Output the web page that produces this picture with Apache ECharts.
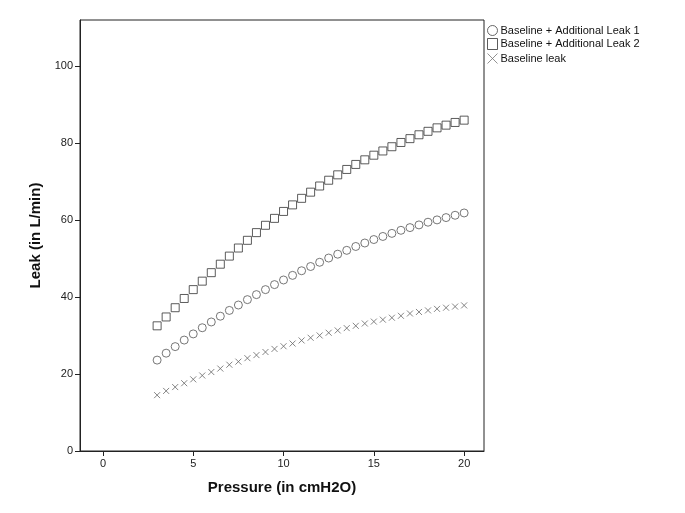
<!DOCTYPE html>
<html>
<head>
<meta charset="utf-8">
<script src="https://cdn.jsdelivr.net/npm/echarts@6/dist/echarts.min.js"></script>
<style>html,body{margin:0;padding:0;background:#fff}#c{width:685px;height:513px}</style>
</head>
<body>
<div id="c"></div>
<script>
var pressure = [3,3.5,4,4.5,5,5.5,6,6.5,7,7.5,8,8.5,9,9.5,10,10.5,11,11.5,12,12.5,13,13.5,14,14.5,15,15.5,16,16.5,17,17.5,18,18.5,19,19.5,20];
var leak1 = [23.6,25.4,27.1,28.8,30.4,32.0,33.5,35.0,36.5,37.9,39.3,40.6,41.9,43.2,44.4,45.6,46.8,47.9,49.0,50.1,51.1,52.1,53.1,54.0,54.9,55.7,56.5,57.3,58.0,58.7,59.4,60.0,60.6,61.2,61.8];
var leak2 = [32.5,34.8,37.2,39.6,41.9,44.1,46.3,48.5,50.6,52.7,54.7,56.7,58.6,60.4,62.2,63.9,65.6,67.2,68.8,70.3,71.7,73.1,74.4,75.6,76.8,77.9,79.0,80.1,81.1,82.1,83.0,83.9,84.6,85.3,85.9];
var baseline = [14.5,15.6,16.6,17.6,18.6,19.6,20.5,21.4,22.4,23.2,24.1,24.9,25.7,26.5,27.2,27.9,28.7,29.4,30.0,30.7,31.3,31.9,32.5,33.1,33.6,34.1,34.6,35.1,35.7,36.1,36.5,36.9,37.2,37.5,37.8];
var seriesNames = ['Baseline + Additional Leak 1','Baseline + Additional Leak 2','Baseline leak'];
var xTicks = [0,5,10,15,20];
var yTicks = [0,20,40,60,80,100];

function pairs(vals){ return pressure.map(function(p,i){ return [p, vals[i]]; }); }
var FONT = 'Liberation Sans, Arial, sans-serif';
var XPATH = 'path://M0,0L10,10M10,0L0,10';
var chart = echarts.init(document.getElementById('c'), null, {renderer:'canvas'});
chart.setOption({
  animation: false,
  backgroundColor: '#fff',
  textStyle: {fontFamily: FONT},
  grid: {left: 80, top: 20, right: 201, bottom: 62, show: true, borderColor: '#222', borderWidth: 1, backgroundColor: 'transparent'},
  legend: {
    orient: 'vertical', left: 485, top: 24, padding: 0, itemWidth: 10, itemHeight: 11, itemGap: 0.5,
    textStyle: {fontFamily: FONT, fontSize: 11, lineHeight: 13, color: '#111', padding: [0,0,0,-2]},
    itemStyle: {borderWidth: 1},
    data: [
      {name: seriesNames[0], icon: 'circle', itemStyle: {color: '#fff', borderColor: '#444', borderWidth: 1}},
      {name: seriesNames[1], icon: 'rect', itemStyle: {color: '#fff', borderColor: '#333', borderWidth: 1}},
      {name: seriesNames[2], icon: XPATH, itemStyle: {color: 'none', borderColor: '#777', borderWidth: 1}}
    ]
  },
  xAxis: {
    type: 'value', min: -1.27, max: 21.1,
    name: 'Pressure (in cmH2O)', nameLocation: 'middle', nameGap: 29,
    nameTextStyle: {fontFamily: FONT, fontSize: 15, fontWeight: 'bold', color: '#111'},
    axisLine: {show: true, onZero: false, lineStyle: {color: '#222', width: 1}},
    axisTick: {show: true, inside: false, length: 5, lineStyle: {color: '#222'}, customValues: xTicks},
    axisLabel: {fontFamily: FONT, fontSize: 11, color: '#222', margin: 7, customValues: xTicks},
    splitLine: {show: false}
  },
  yAxis: {
    type: 'value', min: 0, max: 111.9,
    name: 'Leak (in L/min)', nameLocation: 'middle', nameGap: 30, nameRotate: 90,
    nameTextStyle: {fontFamily: FONT, fontSize: 15, fontWeight: 'bold', color: '#111'},
    axisLine: {show: true, onZero: false, lineStyle: {color: '#222', width: 1}},
    axisTick: {show: true, inside: false, length: 5, lineStyle: {color: '#222'}, customValues: yTicks},
    axisLabel: {fontFamily: FONT, fontSize: 11, color: '#222', margin: 7, customValues: yTicks},
    splitLine: {show: false}
  },
  series: [
    {name: seriesNames[0], type: 'scatter', symbol: 'circle', symbolSize: 8,
     itemStyle: {color: '#fff', borderColor: '#555', borderWidth: 1}, data: pairs(leak1)},
    {name: seriesNames[1], type: 'scatter', symbol: 'rect', symbolSize: 8,
     itemStyle: {color: '#fff', borderColor: '#333', borderWidth: 1}, data: pairs(leak2)},
    {name: seriesNames[2], type: 'scatter', symbol: XPATH, symbolSize: 6,
     itemStyle: {color: 'none', borderColor: '#666', borderWidth: 1}, data: pairs(baseline)}
  ]
});
</script>
</body>
</html>
